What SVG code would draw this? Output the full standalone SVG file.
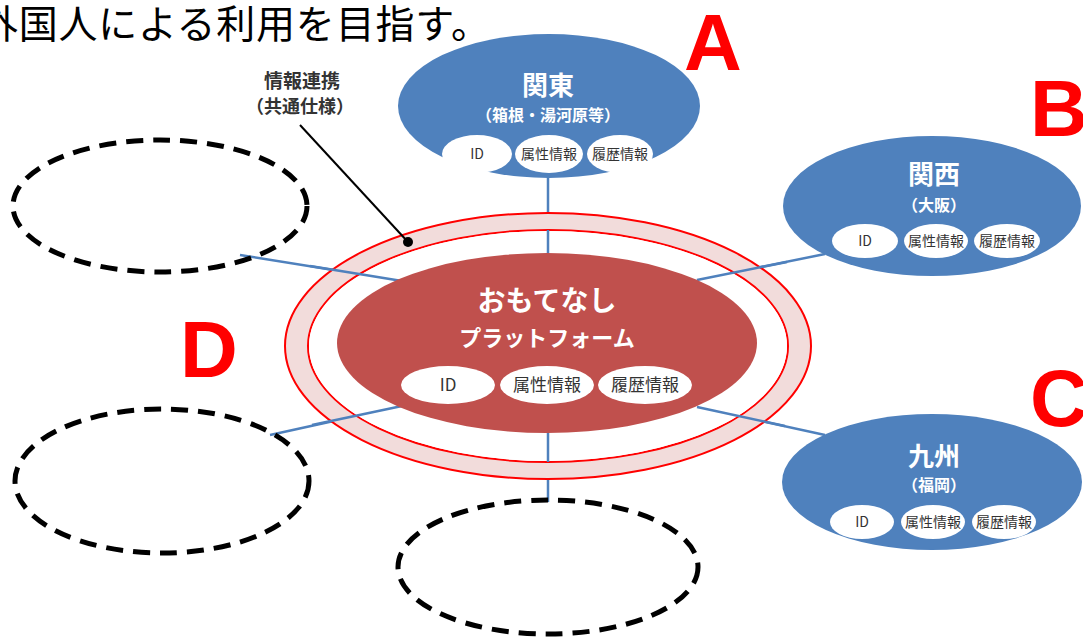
<svg xmlns="http://www.w3.org/2000/svg" width="1083" height="640" viewBox="0 0 1083 640">
<style>
.jp{font-family:"Noto Sans CJK JP","Noto Sans",sans-serif}
.region{fill:#4f81bd}
.pill{fill:#ffffff}
.ptxt{font-family:"Noto Sans CJK JP",sans-serif;fill:#333333;text-anchor:middle}
.ttl{font-family:"Noto Sans CJK JP",sans-serif;fill:#ffffff;font-weight:bold;text-anchor:middle}
.conn{stroke:#4f81bd;stroke-width:2.5;fill:none}
.dash{fill:none;stroke:#000000;stroke-width:5;stroke-dasharray:17 10}
.letter{font-family:"Liberation Sans",Arial,sans-serif;font-weight:bold;fill:#ff0000;font-size:80px}
</style>
<rect width="1083" height="640" fill="#ffffff"/>
<text class="jp" x="-21" y="38" font-size="39" fill="#000" textLength="511" lengthAdjust="spacing">外国人による利用を目指す。</text>

<g id="connectors">
<line class="conn" x1="548" y1="176" x2="548" y2="255"/>
<line class="conn" x1="548" y1="432" x2="548" y2="502"/>
<line class="conn" x1="697" y1="280" x2="825" y2="254"/>
<line class="conn" x1="697" y1="407" x2="825" y2="435"/>
<line class="conn" x1="240" y1="255" x2="402" y2="281"/>
<line class="conn" x1="270" y1="435" x2="402" y2="406"/>
</g>

<g id="ring">
<path fill="#f2dcdb" fill-rule="evenodd" stroke="#ff0000" stroke-width="2" d="M285,346 a263,133 0 1,0 526,0 a263,133 0 1,0 -526,0 Z M308,346 a240,116 0 1,0 480,0 a240,116 0 1,0 -480,0 Z"/>
<ellipse cx="548" cy="346" rx="239" ry="115" fill="#ffffff"/>
<line class="conn" x1="548" y1="230" x2="548" y2="255"/>
<line class="conn" x1="548" y1="432" x2="548" y2="462"/>
<line class="conn" x1="697" y1="280" x2="787" y2="262"/>
<line class="conn" x1="697" y1="407" x2="785" y2="426"/>
<line class="conn" x1="310" y1="266" x2="402" y2="281"/>
<line class="conn" x1="312" y1="425" x2="402" y2="406"/>
</g>

<g id="center">
<ellipse cx="547" cy="343" rx="210" ry="90" fill="#c0504d"/>
<text class="ttl" x="547" y="311" font-size="28">おもてなし</text>
<text class="ttl" x="547" y="346" font-size="22">プラットフォーム</text>
<ellipse class="pill" cx="448" cy="385" rx="47" ry="19"/>
<ellipse class="pill" cx="547" cy="385" rx="47" ry="19"/>
<ellipse class="pill" cx="645" cy="385" rx="47" ry="19"/>
<text class="ptxt" x="448" y="391" font-size="17">ID</text>
<text class="ptxt" x="547" y="391" font-size="17">属性情報</text>
<text class="ptxt" x="645" y="391" font-size="17">履歴情報</text>
</g>

<g id="kanto">
<ellipse class="region" cx="549" cy="106" rx="151" ry="72"/>
<text class="ttl" x="548" y="95" font-size="26">関東</text>
<text class="ttl" x="548" y="121" font-size="16">（箱根・湯河原等）</text>
<ellipse class="pill" cx="477" cy="154" rx="35" ry="19"/>
<ellipse class="pill" cx="549" cy="154" rx="34" ry="19"/>
<ellipse class="pill" cx="620" cy="154" rx="33" ry="19"/>
<text class="ptxt" x="477" y="159" font-size="14">ID</text>
<text class="ptxt" x="549" y="159" font-size="14">属性情報</text>
<text class="ptxt" x="620" y="159" font-size="14">履歴情報</text>
</g>

<g id="kansai">
<ellipse class="region" cx="932" cy="206" rx="149" ry="70"/>
<text class="ttl" x="934" y="184" font-size="26">関西</text>
<text class="ttl" x="934" y="211" font-size="16">（大阪）</text>
<ellipse class="pill" cx="865" cy="241" rx="33" ry="17"/>
<ellipse class="pill" cx="936" cy="241" rx="32" ry="17"/>
<ellipse class="pill" cx="1007" cy="241" rx="33" ry="17"/>
<text class="ptxt" x="865" y="246" font-size="14">ID</text>
<text class="ptxt" x="936" y="246" font-size="14">属性情報</text>
<text class="ptxt" x="1007" y="246" font-size="14">履歴情報</text>
</g>

<g id="kyushu">
<ellipse class="region" cx="932" cy="482" rx="150" ry="68"/>
<text class="ttl" x="934" y="466" font-size="26">九州</text>
<text class="ttl" x="934" y="491" font-size="16">（福岡）</text>
<ellipse class="pill" cx="862" cy="522" rx="32" ry="17"/>
<ellipse class="pill" cx="933" cy="522" rx="32" ry="17"/>
<ellipse class="pill" cx="1004" cy="522" rx="32" ry="17"/>
<text class="ptxt" x="862" y="527" font-size="14">ID</text>
<text class="ptxt" x="933" y="527" font-size="14">属性情報</text>
<text class="ptxt" x="1004" y="527" font-size="14">履歴情報</text>
</g>

<g id="empty-upper-left"><ellipse class="dash" cx="160" cy="206" rx="147" ry="66"/></g>
<g id="empty-lower-left"><ellipse class="dash" cx="162" cy="481" rx="147" ry="72"/></g>
<g id="empty-bottom"><ellipse class="dash" cx="548" cy="567" rx="150" ry="67"/></g>

<g id="label">
<text class="jp" x="302" y="88" font-size="19" font-weight="bold" fill="#333" text-anchor="middle">情報連携</text>
<text class="jp" x="300" y="113" font-size="18" font-weight="bold" fill="#333" text-anchor="middle">（共通仕様）</text>
<line x1="300" y1="125" x2="408" y2="242" stroke="#000" stroke-width="2"/>
<circle cx="408" cy="242" r="5" fill="#000"/>
</g>

<text class="letter" x="684" y="70">A</text>
<text class="letter" x="1030" y="136">B</text>
<text class="letter" x="1030" y="426">C</text>
<text class="letter" x="180" y="377">D</text>
</svg>
